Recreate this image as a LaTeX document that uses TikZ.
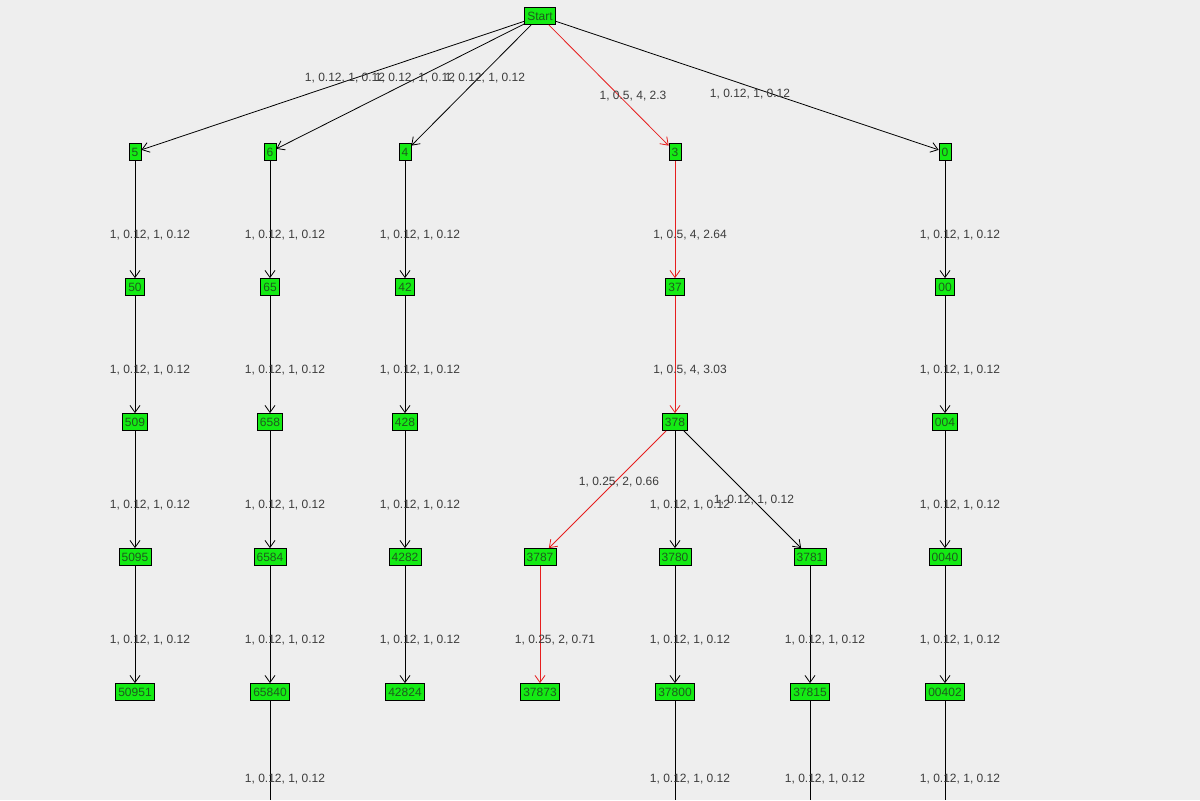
\documentclass[tikz,border=0pt]{standalone}
\usepackage{fontspec}
\setmainfont{Liberation Sans}
\usetikzlibrary{arrows.meta}
\definecolor{bg}{RGB}{238,238,238}
\definecolor{nodegreen}{RGB}{20,235,20}
\definecolor{nodetext}{RGB}{30,90,30}
\definecolor{labeltext}{RGB}{60,60,60}
\definecolor{pathred}{RGB}{230,30,30}
\tikzset{
  state/.style={rectangle, draw=black, fill=nodegreen, text=nodetext, inner sep=1.3pt, minimum height=8.5pt, minimum width=5pt, font=\fontsize{6}{7}\selectfont},
  lbl/.style={text=labeltext, font=\fontsize{6}{7}\selectfont, inner sep=0pt},
  arrow/.style={->, >={Straight Barb[length=3.5pt,width=5pt]}, line width=0.4pt},
  hot/.style={arrow, draw=pathred}
}

\begin{document}
\begin{tikzpicture}[x=0.5pt, y=-0.5pt]

\fill[bg] (0,0) rectangle (1200,800);
\useasboundingbox (0,0) rectangle (1200,800);

%% NODES

\node (start) [state] at (540,16) {Start};
\node (n5) [state] at (135,152) {5};
\node (n6) [state] at (270,152) {6};
\node (n4) [state] at (405,152) {4};
\node (n3) [state] at (675,152) {3};
\node (n0) [state] at (945,152) {0};

\node (n50) [state] at (135,287) {50};
\node (n65) [state] at (270,287) {65};
\node (n42) [state] at (405,287) {42};
\node (n37) [state] at (675,287) {37};
\node (n00) [state] at (945,287) {00};

\node (n509) [state] at (135,422) {509};
\node (n658) [state] at (270,422) {658};
\node (n428) [state] at (405,422) {428};
\node (n378) [state] at (675,422) {378};
\node (n004) [state] at (945,422) {004};

\node (n5095) [state] at (135,557) {5095};
\node (n6584) [state] at (270,557) {6584};
\node (n4282) [state] at (405,557) {4282};
\node (n3787) [state] at (540,557) {3787};
\node (n3780) [state] at (675,557) {3780};
\node (n3781) [state] at (810,557) {3781};
\node (n0040) [state] at (945,557) {0040};

\node (n50951) [state] at (135,692) {50951};
\node (n65840) [state] at (270,692) {65840};
\node (n42824) [state] at (405,692) {42824};
\node (n37873) [state] at (540,692) {37873};
\node (n37800) [state] at (675,692) {37800};
\node (n37815) [state] at (810,692) {37815};
\node (n00402) [state] at (945,692) {00402};

\coordinate (e65840) at (270,800);
\coordinate (e37800) at (675,800);
\coordinate (e37815) at (810,800);
\coordinate (e00402) at (945,800);

%% ARROWS

\draw [arrow] (start) -- (n5);
\draw [arrow] (start) -- (n6);
\draw [arrow] (start) -- (n4);
\draw [hot] (start) -- (n3);
\draw [arrow] (start) -- (n0);
\node [lbl] at (345,78) {1, 0.12, 1, 0.12};
\node [lbl] at (415,78) {1, 0.12, 1, 0.12};
\node [lbl] at (485,78) {1, 0.12, 1, 0.12};
\node [lbl] at (633,96) {1, 0.5, 4, 2.3};
\node [lbl] at (750,94) {1, 0.12, 1, 0.12};

\foreach \a/\b in {n5/n50, n50/n509, n509/n5095, n5095/n50951,
                   n6/n65, n65/n658, n658/n6584, n6584/n65840,
                   n4/n42, n42/n428, n428/n4282, n4282/n42824,
                   n378/n3780, n3780/n37800, n3781/n37815,
                   n0/n00, n00/n004, n004/n0040, n0040/n00402}
  \draw [arrow] (\a) -- node [lbl, xshift=7.5pt, pos=0.63] {1, 0.12, 1, 0.12} (\b);

\foreach \a/\b in {n65840/e65840, n37800/e37800, n37815/e37815, n00402/e00402}
  \draw (\a) -- node [lbl, xshift=7.5pt, pos=0.79] {1, 0.12, 1, 0.12} (\b);

\draw [hot] (n3) -- node [lbl, xshift=7.5pt, pos=0.63] {1, 0.5, 4, 2.64} (n37);
\draw [hot] (n37) -- node [lbl, xshift=7.5pt, pos=0.63] {1, 0.5, 4, 3.03} (n378);
\draw [hot] (n378) -- (n3787);
\node [lbl] at (619,482) {1, 0.25, 2, 0.66};
\draw [arrow] (n378) -- (n3781);
\node [lbl] at (754,500) {1, 0.12, 1, 0.12};
\draw [hot] (n3787) -- node [lbl, xshift=7.5pt, pos=0.63] {1, 0.25, 2, 0.71} (n37873);

\end{tikzpicture}
\end{document}
